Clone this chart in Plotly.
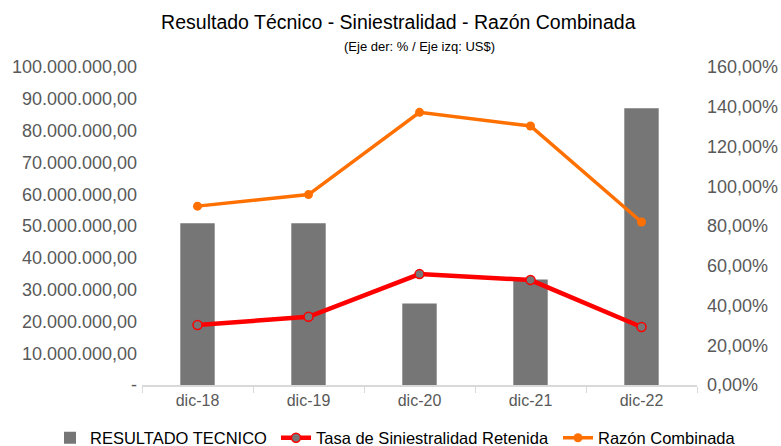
import plotly.graph_objects as go

categories = ["dic-18", "dic-19", "dic-20", "dic-21", "dic-22"]
resultado_tecnico = [50900000, 50900000, 25600000, 33200000, 87000000]
tasa_siniestralidad = [30.2, 34.3, 55.8, 52.8, 29.2]
razon_combinada = [90.0, 95.8, 137.2, 130.3, 82.0]

left_ticks = [0, 10e6, 20e6, 30e6, 40e6, 50e6, 60e6, 70e6, 80e6, 90e6, 100e6]
left_labels = ["-", "10.000.000,00", "20.000.000,00", "30.000.000,00", "40.000.000,00",
               "50.000.000,00", "60.000.000,00", "70.000.000,00", "80.000.000,00",
               "90.000.000,00", "100.000.000,00"]
right_ticks = [0, 20, 40, 60, 80, 100, 120, 140, 160]
right_labels = ["0,00%", "20,00%", "40,00%", "60,00%", "80,00%", "100,00%",
                "120,00%", "140,00%", "160,00%"]

font_family = "Liberation Sans, Arial, sans-serif"
tick_color = "#595959"

fig = go.Figure()
fig.add_trace(go.Bar(
    x=categories, y=resultado_tecnico, name="RESULTADO TECNICO",
    marker=dict(color="#767676", line=dict(width=0)), width=0.31, yaxis="y",
    legend="legend", showlegend=True))
fig.add_trace(go.Scatter(
    x=categories, y=tasa_siniestralidad, name="Tasa de Siniestralidad Retenida",
    mode="lines+markers", yaxis="y2", legend="legend2", showlegend=True,
    line=dict(color="#FF0000", width=4.5),
    marker=dict(size=9, color="#767676", line=dict(color="#FF0000", width=1.5))))
fig.add_trace(go.Scatter(
    x=categories, y=razon_combinada, name="Razón Combinada",
    mode="lines+markers", yaxis="y2", legend="legend3", showlegend=True,
    line=dict(color="#FF7000", width=3.5),
    marker=dict(size=9, color="#FF7000")))

def legend_at(text_left_px):
    return dict(orientation="h", xref="container", yref="container",
                x=(text_left_px - 42) / 781, xanchor="left",
                y=8 / 446, yanchor="middle",
                font=dict(size=16.5, color="#000000"),
                bgcolor="rgba(0,0,0,0)", borderwidth=0)

fig.update_layout(
    width=781, height=446,
    showlegend=True,
    paper_bgcolor="white", plot_bgcolor="white",
    margin=dict(l=142, r=84, t=67, b=61, autoexpand=False),
    font=dict(family=font_family, color=tick_color, size=16),
    title=dict(text="Resultado Técnico - Siniestralidad - Razón Combinada",
               x=0.51, xanchor="center", y=1 - 22 / 446, yanchor="middle",
               font=dict(size=19.5, color="#000000", family=font_family)),
    annotations=[dict(text="(Eje der: % / Eje izq: US$)", xref="paper", yref="paper",
                      x=0.5, y=1.0, yshift=21, xanchor="center", yanchor="middle",
                      showarrow=False, font=dict(size=13, color="#000000"))],
    xaxis=dict(type="category", showgrid=False, showline=True, linecolor="#d9d9d9",
               linewidth=1.5, ticks="outside", tickson="boundaries", ticklen=6,
               tickcolor="#d9d9d9", tickfont=dict(size=16, color=tick_color),
               automargin=False),
    yaxis=dict(range=[0, 100e6], tickvals=left_ticks, ticktext=left_labels,
               showgrid=False, zeroline=False, showline=False, automargin=False,
               tickfont=dict(size=18, color=tick_color), ticklabelstandoff=4),
    yaxis2=dict(range=[0, 160], tickvals=right_ticks, ticktext=right_labels,
                overlaying="y", side="right", showgrid=False, zeroline=False,
                showline=False, automargin=False,
                tickfont=dict(size=18, color=tick_color), ticklabelstandoff=9),
    legend=legend_at(92),
    legend2=legend_at(318),
    legend3=legend_at(600),
)

fig.write_html("out.html", config={"displayModeBar": False},
               post_script="document.body.style.margin='0px';")
